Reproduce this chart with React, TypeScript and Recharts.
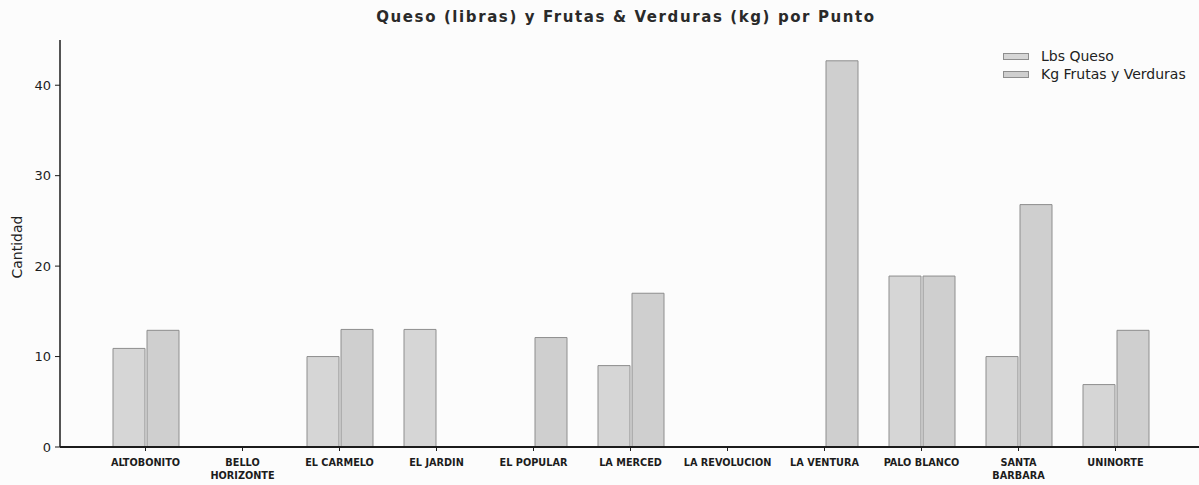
import { Bar, BarChart, XAxis, YAxis } from "recharts";

const puntos = [
  "ALTOBONITO",
  "BELLO\nHORIZONTE",
  "EL CARMELO",
  "EL JARDIN",
  "EL POPULAR",
  "LA MERCED",
  "LA REVOLUCION",
  "LA VENTURA",
  "PALO BLANCO",
  "SANTA\nBARBARA",
  "UNINORTE"
];
const lbsQueso = [10.9, 0, 10, 13, 0, 9, 0, 0, 18.9, 10, 6.9];
const kgFrutasVerduras = [12.9, 0, 13, 0, 12.1, 17, 0, 42.7, 18.9, 26.8, 12.9];
const yTicks = [0, 10, 20, 30, 40];
const leyenda = ["Lbs Queso", "Kg Frutas y Verduras"];

const chartData = puntos.map((punto, i) => ({
  punto,
  queso: lbsQueso[i],
  frutas: kgFrutasVerduras[i]
}));

const QUESO_FILL = "#d6d6d6";
const FRUTAS_FILL = "#cfcfcf";
const EDGE = "#8e8e8e";
const INK = "#1c1c1c";
const FONT = "'DejaVu Sans', sans-serif";

type TickProps = { x?: number; y?: number; payload?: { value: string } };

function PuntoTick(props: TickProps): React.JSX.Element {
  const lines = String(props.payload?.value ?? "").split("\n");
  return (
    <g transform={`translate(${props.x},${props.y})`}>
      <text
        textAnchor="middle"
        fill={INK}
        fontSize={10.8}
        fontWeight="bold"
        fontFamily="'DejaVu Sans Condensed', 'Liberation Sans Narrow', sans-serif"
      >
        {lines.map((line, i) => (
          <tspan key={i} x={0} y={12 + i * 13}>
            {line}
          </tspan>
        ))}
      </text>
    </g>
  );
}

export default function App(): React.JSX.Element {
  const fills = [QUESO_FILL, FRUTAS_FILL];
  return (
    <div
      style={{
        position: "absolute",
        left: 0,
        top: 0,
        width: 1199,
        height: 485,
        background: "#fcfcfc",
        overflow: "hidden"
      }}
    >
      <div
        style={{
          position: "absolute",
          top: 8,
          left: 0,
          width: 1252,
          textAlign: "center",
          fontFamily: FONT,
          fontWeight: "bold",
          fontSize: 15,
          letterSpacing: 1.6,
          color: "#2a2a2a"
        }}
      >
        Queso (libras) y Frutas &amp; Verduras (kg) por Punto
      </div>
      <div
        style={{
          position: "absolute",
          left: 17,
          top: 247,
          transform: "translate(-50%, -50%) rotate(-90deg)",
          fontFamily: FONT,
          fontSize: 14,
          color: "#222",
          whiteSpace: "nowrap"
        }}
      >
        Cantidad
      </div>
      <div
        style={{
          position: "absolute",
          left: 1003,
          top: 47,
          fontFamily: FONT,
          fontSize: 14,
          color: "#222",
          zIndex: 2
        }}
      >
        {leyenda.map((label, i) => (
          <div key={label} style={{ display: "flex", alignItems: "center", height: 18 }}>
            <span
              style={{
                display: "inline-block",
                width: 24,
                height: 5,
                background: fills[i],
                border: `1px solid ${EDGE}`,
                marginRight: 12
              }}
            />
            {label}
          </div>
        ))}
      </div>
      <BarChart
        width={1199}
        height={485}
        data={chartData}
        margin={{ top: 40, right: 0, bottom: 0, left: 0 }}
        barGap={2}
        barSize={32}
      >
        <XAxis
          dataKey="punto"
          interval={0}
          height={38}
          padding={{ left: 37, right: 35 }}
          tickSize={4}
          tickMargin={3}
          tickLine={{ stroke: INK }}
          tick={<PuntoTick />}
          axisLine={{ stroke: INK, strokeWidth: 1.8 }}
        />
        <YAxis
          width={60}
          domain={[0, 45]}
          ticks={yTicks}
          tickSize={5}
          tickMargin={4}
          tick={{ fill: INK, fontSize: 13, fontFamily: FONT }}
          tickLine={{ stroke: INK }}
          axisLine={{ stroke: INK, strokeWidth: 1.5 }}
        />
        <Bar
          dataKey="queso"
          name={leyenda[0]}
          fill={QUESO_FILL}
          stroke={EDGE}
          strokeWidth={1}
          isAnimationActive={false}
        />
        <Bar
          dataKey="frutas"
          name={leyenda[1]}
          fill={FRUTAS_FILL}
          stroke={EDGE}
          strokeWidth={1}
          isAnimationActive={false}
        />
      </BarChart>
    </div>
  );
}
